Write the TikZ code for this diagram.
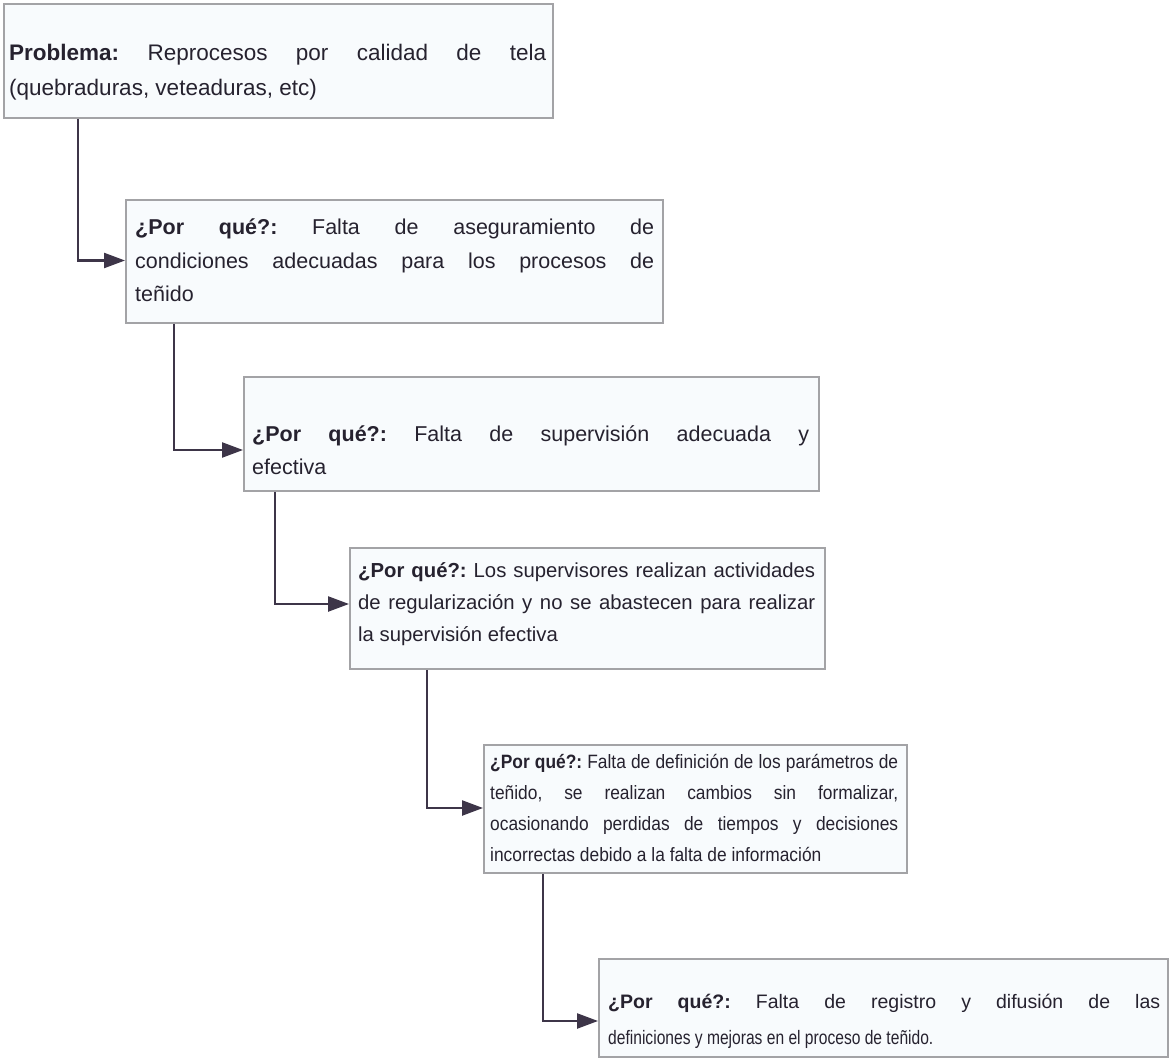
\documentclass[tikz,border=0pt]{standalone}
\usepackage{fontspec}
\setmainfont{Liberation Sans}
\newfontfamily\narrowA[FakeStretch=0.9]{Liberation Sans}
\newfontfamily\narrowB[FakeStretch=0.8]{Liberation Sans}
\usetikzlibrary{arrows.meta}
\setlength{\parindent}{0pt}
\definecolor{txt}{HTML}{26222F}
\definecolor{edge}{HTML}{A3A3A6}
\definecolor{wirecol}{HTML}{3D3548}
\definecolor{boxfill}{HTML}{F8FBFD}
% natural, evenly stretchable interword spaces of the font
\newcommand{\fontspaces}{\frenchspacing\spaceskip=0pt\xspaceskip=0pt\relax}
% a justified line, spread over the given width
\newcommand{\jl}[2]{\makebox[#1][s]{\fontspaces #2}}
\tikzset{
  whybox/.style={draw=edge, line width=1.8pt, fill=boxfill, anchor=north west,
    inner sep=0pt},
  whytext/.style={anchor=west, inner sep=0pt, align=left, text=txt},
  wire/.style={draw=wirecol, line width=2.4pt, -{Triangle[length=21pt,width=15pt]}},
}
\begin{document}
\begin{tikzpicture}[x=1pt,y=-1pt]
\fill[white] (0,0) rectangle (1171,1059);
\useasboundingbox (0,0) rectangle (1171,1059);

% frames
\node[whybox, minimum width=549pt, minimum height=114pt] (b1) at (3,3) {};
\node[whybox, minimum width=537pt, minimum height=123pt] (b2) at (125,199) {};
\node[whybox, minimum width=575pt, minimum height=114pt] (b3) at (243,376) {};
\node[whybox, minimum width=475pt, minimum height=121pt] (b4) at (349,547) {};
\node[whybox, minimum width=423pt, minimum height=128pt] (b5) at (483,744) {};
\node[whybox, minimum width=569pt, minimum height=98pt] (b6) at (598,958) {};

% texts
\node[whytext, text width=537pt, font=\fontsize{22.5}{35}\selectfont] (t1) at (9,72.5)
  {\fontspaces
   \jl{537pt}{\textbf{Problema:} Reprocesos por calidad de tela}\\
   (quebraduras, veteaduras, etc)};

\node[whytext, text width=519pt, font=\fontsize{21.5}{33.5}\selectfont] (t2) at (135,260.5)
  {\fontspaces
   \jl{519pt}{\textbf{¿Por qué?:} Falta de aseguramiento de}\\
   \jl{519pt}{condiciones adecuadas para los procesos de}\\
   teñido};

\node[whytext, text width=557pt, font=\fontsize{21.5}{33}\selectfont] (t3) at (252,450)
  {\fontspaces
   \jl{557pt}{\textbf{¿Por qué?:} Falta de supervisión adecuada y}\\
   efectiva};

\node[whytext, text width=457pt, font=\fontsize{20.3}{32}\selectfont] (t4) at (358,604)
  {\fontspaces
   \jl{457pt}{\textbf{¿Por qué?:} Los supervisores realizan actividades}\\
   \jl{457pt}{de regularización y no se abastecen para realizar}\\
   la supervisión efectiva};

\node[whytext, text width=408pt, font=\narrowA\fontsize{19.3}{31}\selectfont] (t5) at (490,808)
  {\fontspaces
   \jl{408pt}{\textbf{¿Por qué?:} Falta de definición de los parámetros de}\\
   \jl{408pt}{teñido, se realizan cambios sin formalizar,}\\
   \jl{408pt}{ocasionando perdidas de tiempos y decisiones}\\
   incorrectas debido a la falta de información};

\node[whytext, text width=552pt, font=\fontsize{19.5}{36}\selectfont] (t6) at (608,1021)
  {\fontspaces
   \jl{552pt}{\textbf{¿Por qué?:} Falta de registro y difusión de las}\\
   {\narrowB definiciones y mejoras en el proceso de teñido.}};

% connectors
\draw[wire] ([xshift=75pt]b1.south west) |- (b2.west |- t2.west);
\draw[wire] ([xshift=49pt]b2.south west) |- (b3.west |- t3.west);
\draw[wire] ([xshift=32pt]b3.south west) |- (b4.west |- t4.west);
\draw[wire] ([xshift=78pt]b4.south west) |- (b5.west |- t5.west);
\draw[wire] ([xshift=60pt]b5.south west) |- (b6.west |- t6.west);
\end{tikzpicture}
\end{document}
